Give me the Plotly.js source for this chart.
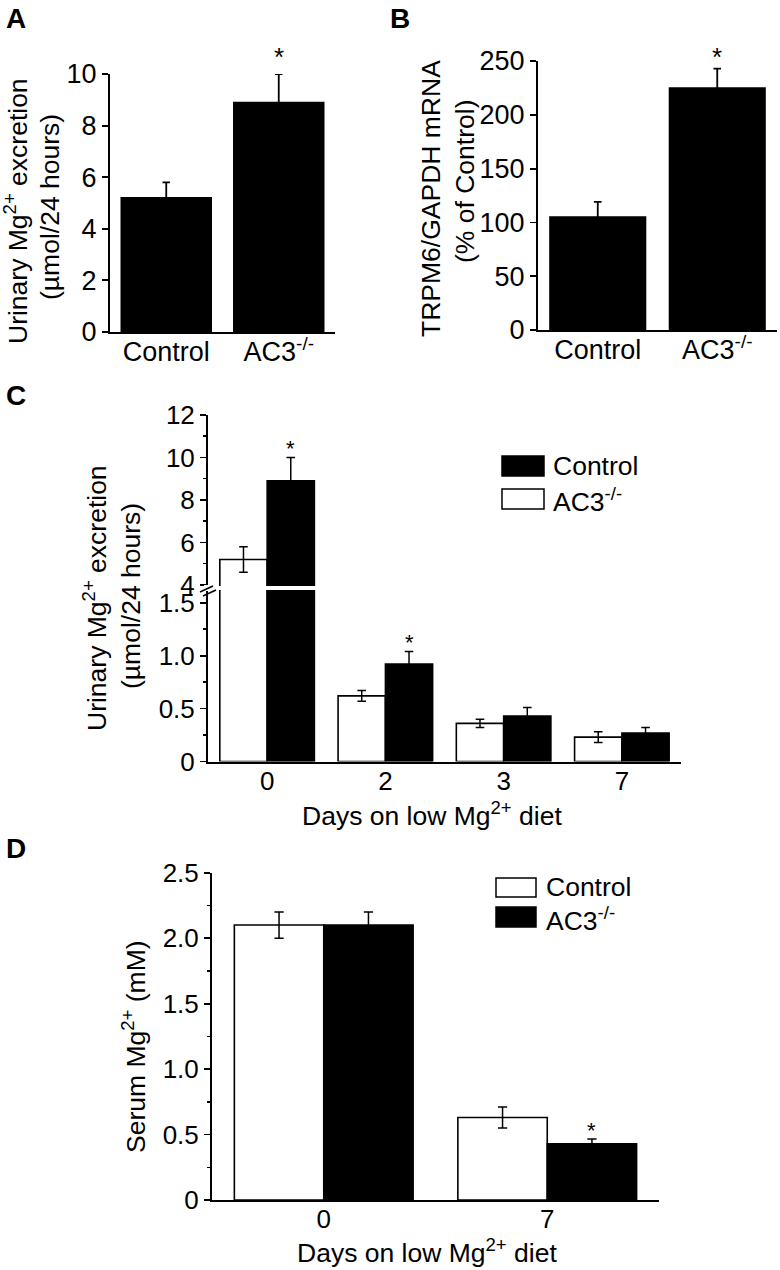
<!DOCTYPE html>
<html><head><meta charset="utf-8">
<script src="https://cdn.plot.ly/plotly-3.0.1.min.js"></script>
<style>html,body{margin:0;padding:0;background:#fff}</style>
</head><body><div id="chart" style="width:780px;height:1270px"></div>
<script>
// ---------- data ----------
const catsA = ['Control', 'AC3<sup>-/-</sup>'];
const valsA = [5.2, 8.9];
const errA = [0.6, 1.1];
const sigA = [false, true];

const catsB = ['Control', 'AC3<sup>-/-</sup>'];
const valsB = [105, 225];
const errB = [14, 18];
const sigB = [false, true];

const daysC = ['0', '2', '3', '7'];
const whiteNameC = 'AC3<sup>-/-</sup>';
const whiteC = [5.2, 0.62, 0.36, 0.23];
const whiteErrC = [0.6, 0.05, 0.04, 0.05];
const blackNameC = 'Control';
const blackC = [8.9, 0.92, 0.43, 0.27];
const blackErrC = [1.1, 0.12, 0.08, 0.05];
const sigC = [true, true, false, false];

const daysD = ['0', '7'];
const whiteNameD = 'Control';
const whiteD = [2.10, 0.63];
const whiteErrD = [0.10, 0.08];
const blackNameD = 'AC3<sup>-/-</sup>';
const blackD = [2.10, 0.43];
const blackErrD = [0.10, 0.035];
const sigD = [false, true];

const yTitleUrinary = ['Urinary Mg<sup>2+</sup> excretion', '(µmol/24 hours)'];
const yTitleB = ['TRPM6/GAPDH mRNA', '(% of Control)'];
const yTitleD = 'Serum Mg<sup>2+</sup> (mM)';
const xTitleDays = 'Days on low Mg<sup>2+</sup> diet';

// ---------- helpers ----------
const W = 780, H = 1270;
const FONT = 'Liberation Sans, Arial, Helvetica, sans-serif';
const px = v => v / W;
const py = v => 1 - v / H;

function errBar(arr, w, t) {
  return {type: 'data', array: arr, visible: true, color: 'black', thickness: t, width: w};
}
function blackBar(x, y, err, xa, ya, name, w, t) {
  return {type: 'bar', x: x, y: y, name: name, xaxis: xa, yaxis: ya, showlegend: false,
    marker: {color: 'black', line: {color: 'black', width: 1.5}},
    error_y: errBar(err, w, t), hoverinfo: 'x+y'};
}
function whiteBar(x, y, err, xa, ya, name, w, t) {
  return {type: 'bar', x: x, y: y, name: name, xaxis: xa, yaxis: ya, showlegend: false,
    marker: {color: 'white', line: {color: 'black', width: 1.6}},
    error_y: errBar(err, w, t), hoverinfo: 'x+y'};
}

const traces = [
  blackBar(catsA, valsA, errA, 'x', 'y', 'A', 3.7, 1.8),
  blackBar(catsB, valsB, errB, 'x2', 'y2', 'B', 3.8, 1.8),
  whiteBar(daysC, whiteC, whiteErrC, 'x3', 'y3', whiteNameC, 4.3, 1.5),
  blackBar(daysC, blackC, blackErrC, 'x3', 'y3', blackNameC, 4.3, 1.5),
  whiteBar(daysC, whiteC, whiteErrC, 'x3', 'y4', whiteNameC, 4.3, 1.5),
  blackBar(daysC, blackC, blackErrC, 'x3', 'y4', blackNameC, 4.3, 1.5),
  whiteBar(daysD, whiteD, whiteErrD, 'x4', 'y5', whiteNameD, 4.6, 1.5),
  blackBar(daysD, blackD, blackErrD, 'x4', 'y5', blackNameD, 4.6, 1.5)
];

function xAxis(dom, anchor, cats, size) {
  return {domain: dom, anchor: anchor, type: 'category', categoryorder: 'array', categoryarray: cats,
    range: [-0.5, cats.length - 0.5], showline: true, linewidth: 2, linecolor: 'black',
    ticks: '', ticklabelstandoff: -5, showgrid: false, zeroline: false, fixedrange: true,
    tickfont: {size: size, family: FONT, color: 'black'}};
}
function yAxis(dom, anchor, range, tickvals, ticktext, minor, size) {
  const a = {domain: dom, anchor: anchor, range: range, tickmode: 'array', tickvals: tickvals, ticktext: ticktext,
    showline: true, linewidth: 2, linecolor: 'black', ticks: 'outside', ticklen: 6, tickwidth: 1.8,
    tickcolor: 'black', showgrid: false, zeroline: false, fixedrange: true,
    tickfont: {size: size, family: FONT, color: 'black'}};
  if (minor) a.minor = {ticks: 'outside', ticklen: 3.5, tickwidth: 1.5, tickcolor: 'black', dtick: minor, showgrid: false};
  return a;
}

const layout = {
  width: W, height: H, margin: {l: 0, r: 0, t: 0, b: 0},
  paper_bgcolor: 'white', plot_bgcolor: 'rgba(0,0,0,0)',
  font: {family: FONT, size: 26, color: 'black'},
  barmode: 'group', bargap: 0.2, bargroupgap: 0, showlegend: false,
  xaxis: xAxis([px(110), px(335)], 'y', catsA, 27),
  yaxis: yAxis([py(332), py(74)], 'x', [0, 10], [0, 2, 4, 6, 8, 10], ['0', '2', '4', '6', '8', '10'], null, 27),
  xaxis2: xAxis([px(538), px(777)], 'y2', catsB, 27),
  yaxis2: yAxis([py(330), py(61)], 'x2', [0, 250], [0, 50, 100, 150, 200, 250], ['0', '50', '100', '150', '200', '250'], null, 27),
  xaxis3: xAxis([px(208), px(681)], 'y3', daysC, 26),
  yaxis3: yAxis([py(761.5), py(590)], 'x3', [0, 1.62], [0, 0.5, 1.0, 1.5], ['0', '0.5', '1.0', '1.5'], 0.25, 26),
  yaxis4: yAxis([py(586), py(415)], 'x3', [3.95, 12], [4, 6, 8, 10, 12], ['4', '6', '8', '10', '12'], 1, 26),
  xaxis4: xAxis([px(212), px(659)], 'y5', daysD, 26),
  yaxis5: yAxis([py(1200), py(872.7)], 'x4', [0, 2.5], [0, 0.5, 1.0, 1.5, 2.0, 2.5], ['0', '0.5', '1.0', '1.5', '2.0', '2.5'], 0.25, 26),
  annotations: [],
  shapes: []
};

const ann = layout.annotations;
function paperText(text, x, y, size, opts) {
  ann.push(Object.assign({text: text, xref: 'paper', yref: 'paper', x: px(x), y: py(y),
    xanchor: 'center', yanchor: 'middle', showarrow: false, font: {size: size, family: FONT, color: 'black'}}, opts || {}));
}
// panel letters
paperText('<b>A</b>', 16, 18, 28);
paperText('<b>B</b>', 400, 18, 28);
paperText('<b>C</b>', 16, 395, 28);
paperText('<b>D</b>', 16, 848, 28);
// y titles
paperText(yTitleUrinary[0], 16, 211, 26.5, {textangle: -90});
paperText(yTitleUrinary[1], 50, 207, 26.5, {textangle: -90});
paperText(yTitleB[0], 431, 199, 26.5, {textangle: -90});
paperText(yTitleB[1], 465, 182, 26.5, {textangle: -90});
paperText(yTitleUrinary[0], 95, 598, 26.5, {textangle: -90});
paperText(yTitleUrinary[1], 131, 596, 26.5, {textangle: -90});
paperText(yTitleD, 134, 1047, 26.5, {textangle: -90});
// x titles
paperText(xTitleDays, 432, 814, 26.5);
paperText(xTitleDays, 427, 1251, 26.5);

// asterisks from data
function stars(cats, vals, errs, sig, xref, yref, offset, shift, size) {
  cats.forEach((c, i) => {
    if (!sig[i]) return;
    ann.push({text: '*', xref: xref, yref: yref, x: i + offset, y: vals[i] + errs[i], yshift: shift,
      xanchor: 'center', yanchor: 'middle', showarrow: false, font: {size: size, family: FONT, color: 'black'}});
  });
}
stars(catsA, valsA, errA, sigA, 'x', 'y', 0, 17, 26);
stars(catsB, valsB, errB, sigB, 'x2', 'y2', 0, 12, 26);
stars(daysC, blackC, blackErrC, sigC.map((s, i) => s && blackC[i] > 4), 'x3', 'y4', 0.2, 9, 22);
stars(daysC, blackC, blackErrC, sigC.map((s, i) => s && blackC[i] <= 4), 'x3', 'y3', 0.2, 9, 22);
stars(daysD, blackD, blackErrD, sigD, 'x4', 'y5', 0.2, 9, 22);

// legends (boxes drawn as shapes, labels as text)
const shp = layout.shapes;
function box(x0, y0, x1, y1, fill) {
  shp.push({type: 'rect', xref: 'paper', yref: 'paper', x0: px(x0), x1: px(x1), y0: py(y1), y1: py(y0),
    fillcolor: fill, line: {color: 'black', width: 1.5}});
}
box(502, 456, 544, 476, 'black');
box(502, 489, 544, 509, 'white');
paperText(blackNameC, 551, 466, 26.5, {xanchor: 'left'});
paperText(whiteNameC, 551, 500, 26.5, {xanchor: 'left'});
box(496, 878, 536, 897, 'white');
box(496, 907, 536, 927, 'black');
paperText(whiteNameD, 544, 887, 26.5, {xanchor: 'left'});
paperText(blackNameD, 544, 919, 26.5, {xanchor: 'left'});

// axis break marks in C
shp.push({type: 'rect', xref: 'paper', yref: 'paper', x0: px(204), x1: px(212), y0: py(591), y1: py(585),
  fillcolor: 'white', line: {width: 0}});
shp.push({type: 'line', xref: 'paper', yref: 'paper', x0: px(200), y0: py(592), x1: px(213), y1: py(586),
  line: {color: 'black', width: 1.5}});
shp.push({type: 'line', xref: 'paper', yref: 'paper', x0: px(203), y0: py(596), x1: px(216), y1: py(590),
  line: {color: 'black', width: 1.5}});

Plotly.newPlot('chart', traces, layout, {displayModeBar: false, staticPlot: true});
</script>
</body></html>
